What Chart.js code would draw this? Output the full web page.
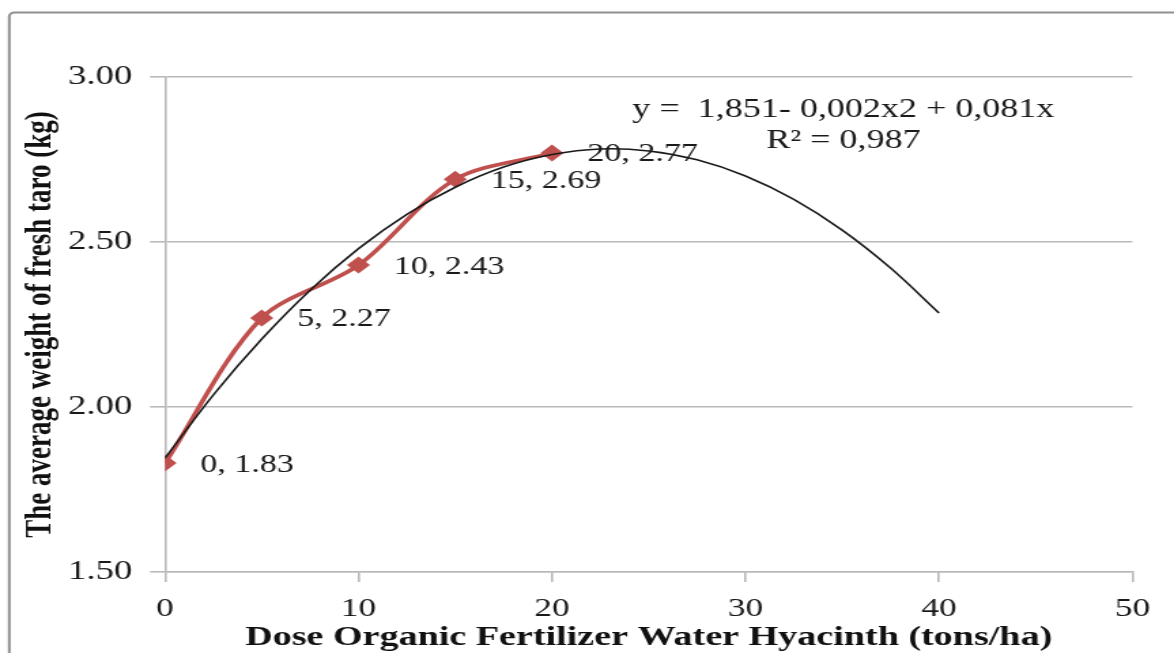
<!DOCTYPE html>
<html>
<head>
<meta charset="utf-8">
<script src="https://cdn.jsdelivr.net/npm/chart.js@4.4.1/dist/chart.umd.min.js"></script>
<style>
html,body{margin:0;padding:0;background:#fff;overflow:hidden;width:1174px;height:653px;}
#wrap{position:absolute;left:0;top:0;width:863px;height:653px;transform:scaleX(1.3604);transform-origin:0 0;}
canvas{display:block;}
</style>
</head>
<body>
<div id="wrap"><canvas id="c" width="863" height="653"></canvas></div>
<script>
// ---- data ----
const doses = [0, 5, 10, 15, 20];
const weights = [1.83, 2.27, 2.43, 2.69, 2.77];
const trendDoses = [0, 2.5, 5, 7.5, 10, 12.5, 15, 17.5, 20, 22.5, 25, 27.5, 30, 32.5, 35, 37.5, 40];
const trendWeights = [1.845, 2.037, 2.206, 2.354, 2.480, 2.584, 2.666, 2.727, 2.765, 2.782, 2.776, 2.749, 2.700, 2.629, 2.536, 2.421, 2.285];
const yTickLabels = {1.5: '1.50', 2: '2.00', 2.5: '2.50', 3: '3.00'};
const xTitle = 'Dose Organic Fertilizer Water Hyacinth (tons/ha)';
const yTitle = 'The average weight of fresh taro (kg)';
const equationLines = ['y =  1,851- 0,002x2 + 0,081x', 'R\u00B2 = 0,987'];
const equationAnchor = {x: 35.06, y: [2.90, 2.806]};

const SERIF = '"Liberation Serif", "Times New Roman", "DejaVu Serif", serif';
const TEXT = '#1a1a1a';
const GRID = '#b9b9b9';

const frame = {
  id: 'frame',
  beforeDraw(chart) {
    const ctx = chart.ctx;
    ctx.save();
    ctx.fillStyle = '#fff';
    ctx.fillRect(0, 0, chart.width, chart.height);
    ctx.strokeStyle = '#8f8f8f';
    ctx.lineWidth = 2;
    ctx.beginPath();
    if (ctx.roundRect) ctx.roundRect(6.8, 12.5, chart.width + 20, chart.height + 20, 4);
    else ctx.rect(6.8, 12.5, chart.width + 20, chart.height + 20);
    ctx.stroke();
    ctx.restore();
  }
};

const pointLabels = {
  id: 'pointLabels',
  afterDatasetDraw(chart, args) {
    if (args.index !== 1) return;
    const ctx = chart.ctx;
    const meta = args.meta;
    ctx.save();
    ctx.font = '25px ' + SERIF;
    ctx.fillStyle = TEXT;
    ctx.textAlign = 'left';
    ctx.textBaseline = 'middle';
    meta.data.forEach((pt, i) => {
      ctx.fillText(doses[i] + ', ' + weights[i].toFixed(2), pt.x + 26, pt.y + 2);
    });
    ctx.restore();
  }
};

const equation = {
  id: 'equation',
  afterDatasetsDraw(chart) {
    const ctx = chart.ctx;
    const xs = chart.scales.x, ys = chart.scales.y;
    ctx.save();
    ctx.font = '26.5px ' + SERIF;
    ctx.fillStyle = TEXT;
    ctx.textAlign = 'center';
    ctx.textBaseline = 'middle';
    equationLines.forEach((t, i) => {
      ctx.fillText(t, xs.getPixelForValue(equationAnchor.x), ys.getPixelForValue(equationAnchor.y[i]));
    });
    ctx.restore();
  }
};

new Chart(document.getElementById('c'), {
  type: 'line',
  data: {
    datasets: [
      {
        label: 'Trendline',
        data: trendDoses.map((x, i) => ({x: x, y: trendWeights[i]})),
        borderColor: '#1a1a1a',
        borderWidth: 1.6,
        pointRadius: 0,
        tension: 0.35,
        fill: false,
        order: 0
      },
      {
        label: 'Weight',
        data: doses.map((x, i) => ({x: x, y: weights[i]})),
        borderColor: '#C0504D',
        backgroundColor: '#C0504D',
        borderWidth: 3.6,
        pointStyle: 'rectRot',
        pointRadius: 8.5,
        pointBorderWidth: 0,
        tension: 0.32,
        fill: false,
        order: 1
      }
    ]
  },
  options: {
    responsive: false,
    devicePixelRatio: 1,
    animation: false,
    events: [],
    layout: {padding: {left: 0, right: 30.6, top: 77, bottom: 0}},
    plugins: {legend: {display: false}, tooltip: {enabled: false}},
    scales: {
      x: {
        type: 'linear',
        min: 0, max: 50,
        ticks: {stepSize: 10, color: TEXT, font: {family: SERIF, size: 26}, padding: 12, maxRotation: 0},
        grid: {drawOnChartArea: false, drawTicks: true, tickLength: 10, color: GRID, lineWidth: 1.6},
        border: {display: true, color: GRID, width: 1.6},
        title: {display: true, text: xTitle, color: '#111', font: {family: SERIF, size: 28, weight: 'bold', lineHeight: 1}, padding: {top: 0, bottom: 1}},
        afterFit(s) { s.height = 81; }
      },
      y: {
        type: 'linear',
        min: 1.5, max: 3.0,
        ticks: {stepSize: 0.5, color: TEXT, font: {family: SERIF, size: 27}, padding: 13,
          callback: v => yTickLabels[v] !== undefined ? yTickLabels[v] : v.toFixed(2)},
        grid: {drawOnChartArea: true, drawTicks: true, tickLength: 11, color: GRID, lineWidth: 1.6},
        border: {display: true, color: GRID, width: 1.6},
        title: {display: true, text: yTitle, color: '#111', font: {family: SERIF, size: 27, weight: 'bold', lineHeight: 1}, padding: {top: 17, bottom: 0}},
        afterFit(s) { s.width = 121.3; }
      }
    }
  },
  plugins: [frame, pointLabels, equation]
});
</script>
</body>
</html>
